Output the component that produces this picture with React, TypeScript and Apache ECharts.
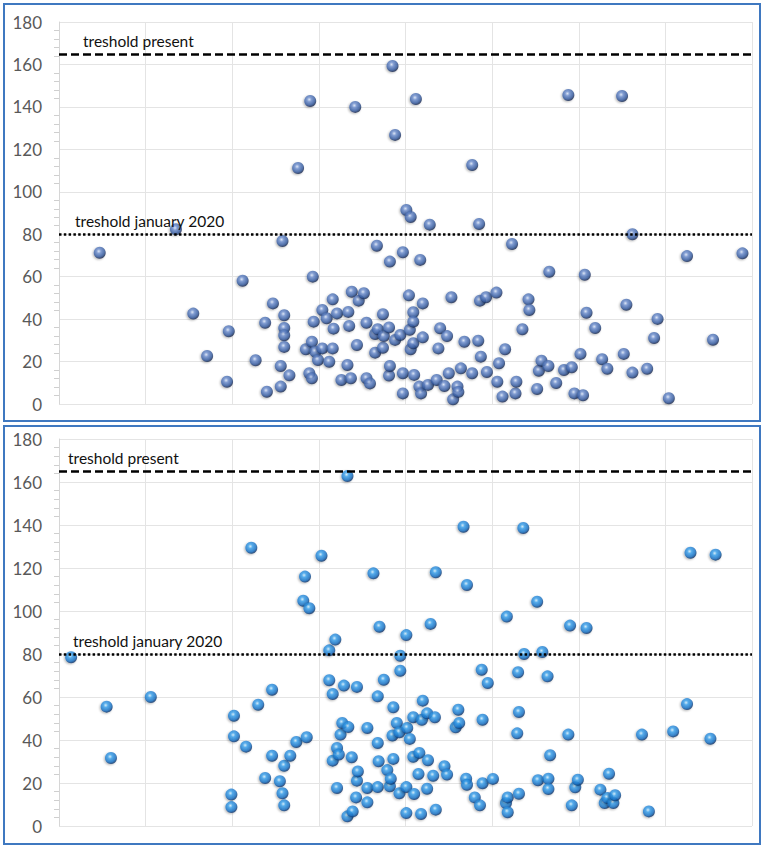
import React, { useEffect, useRef } from "react";
import * as echarts from "echarts";

// Panel 1 (top) points: [x, value]
const topPoints: number[][] = [
  [4.7, 71.3], [13.5, 82.3], [15.5, 42.6], [17.1, 22.6], [19.4, 10.5], [19.6, 34.3],
  [21.2, 58.1], [22.7, 20.6], [23.8, 38.3], [24.0, 5.8], [24.7, 47.4], [25.6, 17.9],
  [25.6, 8.2], [25.8, 76.8], [26.0, 41.8], [26.0, 35.8], [26.0, 32.4], [26.0, 26.9],
  [26.6, 13.5], [27.6, 111.2], [29.0, 142.8], [29.3, 60.0], [28.5, 25.8], [29.2, 29.3],
  [29.6, 24.6], [29.4, 38.8], [28.9, 14.5], [29.2, 12.1], [29.9, 20.7], [30.4, 44.3],
  [30.4, 26.2], [30.9, 40.4], [31.2, 19.9], [31.6, 49.3], [31.6, 26.2], [31.7, 35.5],
  [32.1, 42.7], [32.6, 11.3], [33.3, 18.4], [33.4, 43.4], [33.5, 36.8], [33.7, 12.1],
  [33.8, 52.9], [34.2, 140.0], [34.4, 27.8], [34.6, 48.7], [35.2, 52.2], [35.5, 38.3],
  [35.5, 12.1], [35.9, 9.7], [36.5, 33.0], [36.5, 24.2], [36.7, 74.6], [36.8, 35.2],
  [37.4, 42.3], [37.4, 26.5], [37.5, 32.0], [38.1, 36.1], [38.1, 13.4], [38.2, 17.9],
  [38.2, 67.1], [38.5, 159.3], [38.8, 126.8], [38.8, 30.2], [39.4, 32.5], [39.7, 71.5],
  [39.7, 14.5], [39.7, 5.0], [40.1, 91.4], [40.4, 51.2], [40.5, 35.0], [40.6, 88.1],
  [40.6, 25.8], [40.9, 43.2], [40.9, 38.8], [40.9, 28.6], [41.0, 13.7], [41.2, 143.7],
  [41.6, 8.2], [41.7, 67.9], [41.8, 5.0], [42.0, 47.4], [42.0, 31.4], [42.6, 9.0],
  [42.8, 84.5], [43.6, 11.3], [43.8, 26.2], [44.0, 35.7], [44.5, 8.5], [44.8, 32.0],
  [45.0, 14.5], [45.3, 50.3], [45.5, 2.2], [46.0, 8.2], [46.1, 5.7], [46.4, 16.8],
  [46.8, 29.3], [47.7, 112.6], [47.7, 14.5], [48.4, 29.8], [48.5, 84.8], [48.6, 48.7],
  [48.7, 22.3], [49.3, 50.3], [49.4, 15.1], [50.5, 52.5], [50.6, 10.5], [50.8, 19.2],
  [51.2, 3.5], [51.5, 25.8], [52.3, 75.4], [52.7, 5.0], [52.8, 10.5], [53.5, 35.2],
  [54.2, 49.3], [54.3, 44.3], [55.2, 7.1], [55.4, 15.7], [55.7, 20.4], [56.5, 17.9],
  [56.6, 62.3], [57.4, 9.9], [58.3, 16.0], [58.8, 145.6], [59.2, 17.3], [59.5, 5.0],
  [60.2, 23.6], [60.5, 4.1], [60.7, 60.9], [60.9, 43.0], [61.9, 35.8], [62.7, 21.1],
  [63.3, 16.6], [65.0, 145.1], [65.2, 23.6], [65.5, 46.8], [66.2, 80.0], [66.2, 14.8],
  [67.9, 16.6], [68.7, 31.1], [69.1, 40.1], [70.4, 2.7], [72.5, 69.7], [75.5, 30.3],
  [78.9, 71.0],
];

// Panel 2 (bottom) points: [x, value]
const bottomPoints: number[][] = [
  [1.4, 78.5], [5.5, 55.5], [6.0, 31.6], [10.6, 60.0], [19.9, 14.6], [19.9, 8.8],
  [20.2, 51.3], [20.2, 41.7], [21.6, 36.9], [22.2, 129.4], [23.0, 56.4], [23.8, 22.3],
  [24.6, 63.4], [24.6, 32.7], [25.5, 20.8], [25.8, 15.2], [26.0, 28.0], [26.0, 9.6],
  [26.7, 32.7], [27.4, 39.1], [28.2, 104.8], [28.4, 116.0], [28.6, 41.3], [28.9, 101.3],
  [30.3, 125.7], [31.2, 81.7], [31.2, 67.8], [31.6, 61.4], [31.9, 86.7], [31.6, 30.4],
  [32.1, 36.3], [32.1, 17.7], [32.3, 33.2], [32.5, 42.5], [32.7, 47.9], [32.9, 65.3],
  [33.3, 162.8], [33.3, 4.5], [33.4, 46.0], [33.8, 32.0], [33.9, 6.8], [34.3, 13.3],
  [34.4, 64.7], [34.4, 21.1], [34.5, 25.4], [35.6, 45.6], [35.6, 17.7], [35.6, 11.0],
  [36.3, 117.5], [36.8, 60.3], [36.8, 38.6], [36.9, 30.1], [36.8, 18.1], [37.0, 92.7],
  [37.5, 68.0], [37.9, 26.0], [38.2, 18.5], [38.3, 22.0], [38.5, 42.1], [38.6, 55.2],
  [38.6, 31.2], [39.0, 47.9], [39.3, 43.6], [39.3, 15.2], [39.4, 79.2], [39.4, 72.2],
  [40.1, 88.8], [40.1, 18.1], [40.1, 6.0], [40.2, 45.6], [40.5, 40.5], [40.9, 50.6],
  [40.9, 32.2], [41.0, 14.9], [41.5, 24.2], [41.6, 34.0], [41.8, 5.6], [41.9, 49.4],
  [42.0, 58.3], [42.5, 52.4], [42.5, 17.3], [42.6, 30.6], [42.9, 94.0], [43.2, 23.4],
  [43.4, 50.6], [43.5, 118.0], [43.5, 7.6], [44.5, 27.8], [44.8, 23.9], [45.8, 45.9],
  [46.1, 54.1], [46.2, 47.9], [46.7, 139.2], [47.0, 22.0], [47.1, 112.1], [47.1, 19.2],
  [48.0, 13.3], [48.6, 9.6], [48.8, 72.7], [48.9, 49.4], [48.9, 19.9], [49.5, 66.5],
  [50.1, 21.9], [51.6, 10.7], [51.7, 97.4], [51.8, 13.3], [51.8, 6.4], [52.9, 43.1],
  [53.0, 71.5], [53.1, 53.0], [53.1, 15.0], [53.6, 138.6], [53.7, 80.0], [55.2, 104.3],
  [55.3, 21.3], [55.8, 80.9], [56.4, 69.6], [56.5, 22.0], [56.5, 17.2], [56.7, 32.9],
  [58.8, 42.5], [59.0, 93.2], [59.2, 9.6], [59.6, 18.0], [59.9, 21.5], [60.9, 92.1],
  [62.5, 16.9], [63.0, 10.7], [63.3, 13.0], [63.5, 24.3], [64.0, 10.7], [64.2, 14.3],
  [67.3, 42.5], [68.1, 6.8], [70.9, 44.0], [72.5, 56.7], [72.9, 127.1], [75.2, 40.6],
  [75.8, 126.2],
];

const thresholdValues = [165, 80];
const thresholdLabels = ["treshold present", "treshold january 2020"];

const FONT = "Lato, 'Open Sans', sans-serif";

function sphere(light: string, mid: string, dark: string, edge: string) {
  return {
    type: "radial",
    x: 0.42,
    y: 0.38,
    r: 0.62,
    colorStops: [
      { offset: 0, color: light },
      { offset: 0.3, color: mid },
      { offset: 0.75, color: dark },
      { offset: 1, color: edge },
    ],
  };
}

export default function App() {
  const ref = useRef<HTMLDivElement>(null);

  useEffect(() => {
    if (!ref.current) return;
    const chart = echarts.init(ref.current, null, { renderer: "svg" });

    const grids = [
      { left: 59, top: 22, width: 693, height: 382 },
      { left: 59, top: 439, width: 693, height: 387 },
    ];

    const xAxes = grids.map((_, i) => ({
      type: "value",
      gridIndex: i,
      min: 0,
      max: 80,
      interval: 10,
      axisLabel: { show: false },
      axisLine: { show: false },
      axisTick: { show: false },
      splitLine: { show: true, lineStyle: { color: "#e4e4e4", width: 1 } },
    }));

    const yAxes = grids.map((_, i) => ({
      type: "value",
      gridIndex: i,
      min: 0,
      max: 180,
      interval: 20,
      axisLine: { show: true, lineStyle: { color: "#d6d6d6", width: 1 } },
      axisTick: { show: false },
      minorTick: {
        show: true,
        splitNumber: 5,
        length: 5,
        lineStyle: { color: "#cfcfcf", width: 1 },
      },
      splitLine: { show: true, lineStyle: { color: "#e4e4e4", width: 1 } },
      axisLabel: {
        color: "#595959",
        fontSize: 17,
        fontFamily: FONT,
        margin: 17,
      },
    }));

    const labelOffsets = [
      [[24, 5], [16, 5]],
      [[9, 5], [14, 5]],
    ];

    const makeMarkLine = (panel: number) => ({
      silent: true,
      symbol: ["none", "none"],
      animation: false,
      data: thresholdValues.map((v, k) => ({
        yAxis: v,
        lineStyle: {
          color: "#000000",
          width: k === 0 ? 2.6 : 2.5,
          type: k === 0 ? [8, 4] : [2.5, 2.3],
        },
        label: {
          show: true,
          position: "insideStartTop",
          formatter: thresholdLabels[k],
          color: "#111111",
          fontSize: 15.5,
          fontFamily: FONT,
          distance: labelOffsets[panel][k],
        },
      })),
    });

    const topColor = sphere("#dde8fb", "#6f90d0", "#345a9f", "#142348");
    const bottomColor = sphere("#d2efff", "#3aa2ee", "#1670c4", "#0a2d62");

    const option = {
      animation: false,
      backgroundColor: "#ffffff",
      grid: grids,
      xAxis: xAxes,
      yAxis: yAxes,
      graphic: [
        {
          type: "rect",
          shape: { x: 4, y: 4, width: 756, height: 417 },
          style: { fill: "none", stroke: "#3f78c0", lineWidth: 2 },
          silent: true,
        },
        {
          type: "rect",
          shape: { x: 4, y: 426, width: 756, height: 418 },
          style: { fill: "none", stroke: "#3f78c0", lineWidth: 2 },
          silent: true,
        },
      ],
      series: [
        {
          type: "scatter",
          xAxisIndex: 0,
          yAxisIndex: 0,
          data: topPoints,
          symbol: "circle",
          symbolSize: 12,
          itemStyle: {
            color: topColor,
            shadowColor: "rgba(0,0,0,0.35)",
            shadowBlur: 2,
            shadowOffsetX: -1,
            shadowOffsetY: 1,
          },
          markLine: makeMarkLine(0),
          z: 3,
        },
        {
          type: "scatter",
          xAxisIndex: 1,
          yAxisIndex: 1,
          data: bottomPoints,
          symbol: "circle",
          symbolSize: 12,
          itemStyle: {
            color: bottomColor,
            shadowColor: "rgba(0,0,0,0.35)",
            shadowBlur: 2,
            shadowOffsetX: -1,
            shadowOffsetY: 1,
          },
          markLine: makeMarkLine(1),
          z: 3,
        },
      ],
    };

    chart.setOption(option as any);
    return () => chart.dispose();
  }, []);

  return (
    <div
      ref={ref}
      style={{ position: "absolute", left: 0, top: 0, width: 765, height: 848 }}
    />
  );
}
